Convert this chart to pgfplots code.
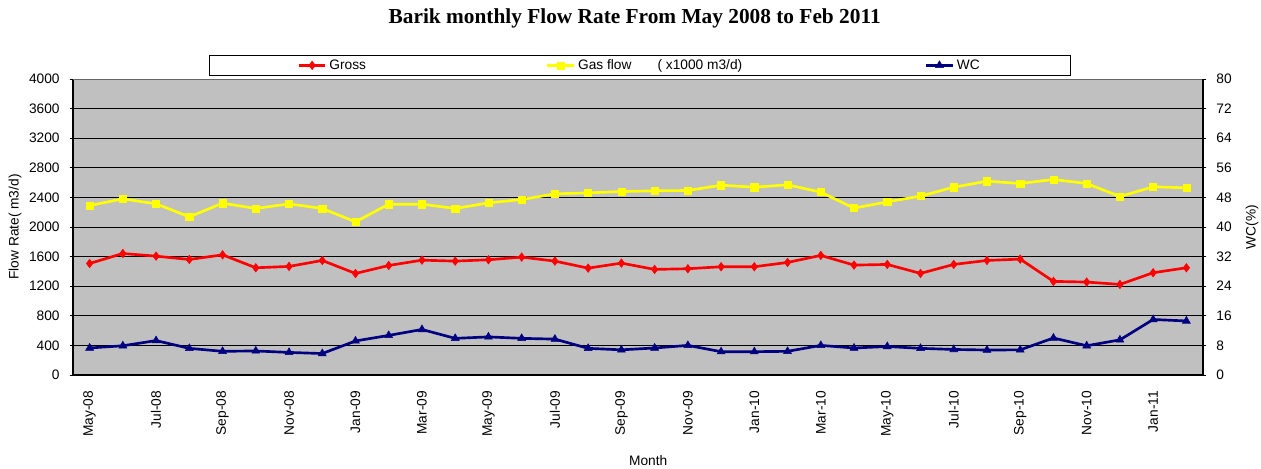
\documentclass[border=0pt]{standalone}
\usepackage{pgfplots}
\pgfplotsset{compat=1.18}
\usepackage{pgfplotstable}
\usepackage{fontspec}
\setmainfont{Liberation Sans}
\newfontfamily\titlefont{Liberation Serif}

\definecolor{plotbg}{HTML}{C0C0C0}
\definecolor{grossred}{HTML}{FF0000}
\definecolor{gasyellow}{HTML}{FFFF00}
\definecolor{wcnavy}{HTML}{000080}

% Monthly values, May-08 (0) to Feb-11 (33)
\pgfplotstableread{
idx gross gas  wc
0   1507  2290 7.3
1   1642  2380 7.9
2   1606  2313 9.3
3   1561  2137 7.2
4   1624  2322 6.4
5   1449  2250 6.5
6   1467  2313 6.1
7   1548  2250 5.8
8   1372  2070 9.2
9   1480  2308 10.7
10  1552  2308 12.3
11  1539  2250 9.9
12  1557  2326 10.3
13  1593  2371 9.9
14  1539  2448 9.7
15  1444  2461 7.2
16  1512  2479 6.8
17  1427  2489 7.3
18  1436  2493 8.0
19  1463  2565 6.3
20  1463  2538 6.3
21  1521  2570 6.4
22  1616  2471 8.0
23  1485  2255 7.3
24  1494  2340 7.7
25  1373  2417 7.2
26  1494  2538 6.9
27  1548  2619 6.75
28  1566  2588 6.8
29  1265  2642 10.0
30  1256  2588 7.9
31  1224  2412 9.5
32  1382  2543 15.0
33  1449  2529 14.6
}\flowdata

\pgfplotsset{
  common/.style={
    scale only axis,
    width=847.5pt, height=222pt,
    at={(54.75pt,69.75pt)}, anchor=south west,
    xmin=-0.5, xmax=33.5,
    ymin=0,
    axis line style={black, line width=0.8pt},
    tick style={black, line width=0.6pt},
    major tick length=2.5pt,
    ticklabel style={font=\fontsize{10.3}{12}\selectfont},
    label style={font=\fontsize{10.3}{12}\selectfont},
  },
}

\begin{document}
\begin{tikzpicture}
\path[use as bounding box] (0,0) rectangle (945.75pt,351pt);

\node[font=\titlefont\bfseries\fontsize{16}{18}\selectfont] at (476pt,337pt)
  {Barik monthly Flow Rate From May 2008 to Feb 2011};

\begin{axis}[
  common,
  ymax=4000,
  ytick={0,400,...,4000},
  yticklabel style={/pgf/number format/assume math mode=true, /pgf/number format/1000 sep={}},
  axis y line*=left,
  axis x line*=bottom,
  y tick label style={xshift=-4pt},
  tick align=outside,
  axis background/.style={fill=plotbg},
  ymajorgrids,
  grid style={black, line width=0.6pt},
  xtick={0,2,...,32},
  xticklabels={May-08,Jul-08,Sep-08,Nov-08,Jan-09,Mar-09,May-09,Jul-09,Sep-09,Nov-09,Jan-10,Mar-10,May-10,Jul-10,Sep-10,Nov-10,Jan-11},
  x tick style={draw=none},
  xticklabel style={rotate=90, anchor=east, xshift=-6pt},
  extra x ticks={1.5,3.5,...,31.5},
  extra x tick labels={},
  extra x tick style={tick align=inside, tick style={black, line width=0.6pt}, major tick length=2.5pt, grid=none},
  xlabel={Month},
  xlabel style={at={(axis description cs:0.509,-0.289)}, anchor=center},
  ylabel={Flow Rate( m3/d)},
  ylabel style={at={(axis description cs:-0.0513,0.5)}, anchor=center},
  legend columns=3,
  legend style={
    at={(axis description cs:0.1204,1.082)}, anchor=north west,
    draw=black, line width=0.6pt, fill=white,
    inner xsep=66pt, inner ysep=1.2pt,
    font=\fontsize{10.3}{12}\selectfont,
  },
  legend cell align=left,
  legend image code/.code={
    \draw[mark repeat=2, mark phase=2] plot coordinates {(0pt,0pt) (10pt,0pt) (20pt,0pt)};
  },
]
\addplot[grossred, line width=2pt, mark=diamond*, mark size=3.2pt,
  mark options={solid, line width=0.4pt}] table[x=idx, y=gross] {\flowdata};
\addlegendentry{\makebox[160.5pt][l]{Gross}}
\addplot[gasyellow, line width=2pt, mark=square*, mark size=2.7pt,
  mark options={solid, line width=0.4pt}] table[x=idx, y=gas] {\flowdata};
\addlegendentry{\makebox[258pt][l]{Gas flow\hspace{19.5pt}( x1000 m3/d)}}
\addlegendimage{wcnavy, line width=2pt, mark=triangle*, mark size=3.4pt,
  mark options={solid, line width=0.4pt}}
\addlegendentry{WC}
% top edge of the plot frame
\draw[black!60, line width=0.8pt] (rel axis cs:0,1) -- (rel axis cs:1,1);
\end{axis}

\begin{axis}[
  common,
  ymax=80,
  ytick={0,8,...,80},
  yticklabel style={/pgf/number format/assume math mode=true, xshift=4pt},
  axis y line*=right,
  axis x line=none,
  tick align=outside,
  ylabel={WC(\%)},
  ylabel style={at={(axis description cs:1.0434,0.5)}, anchor=center, rotate=0},
]
\addplot[wcnavy, line width=2pt, mark=triangle*, mark size=3.4pt,
  mark options={solid, line width=0.4pt}] table[x=idx, y=wc] {\flowdata};
\end{axis}
\end{tikzpicture}
\end{document}
